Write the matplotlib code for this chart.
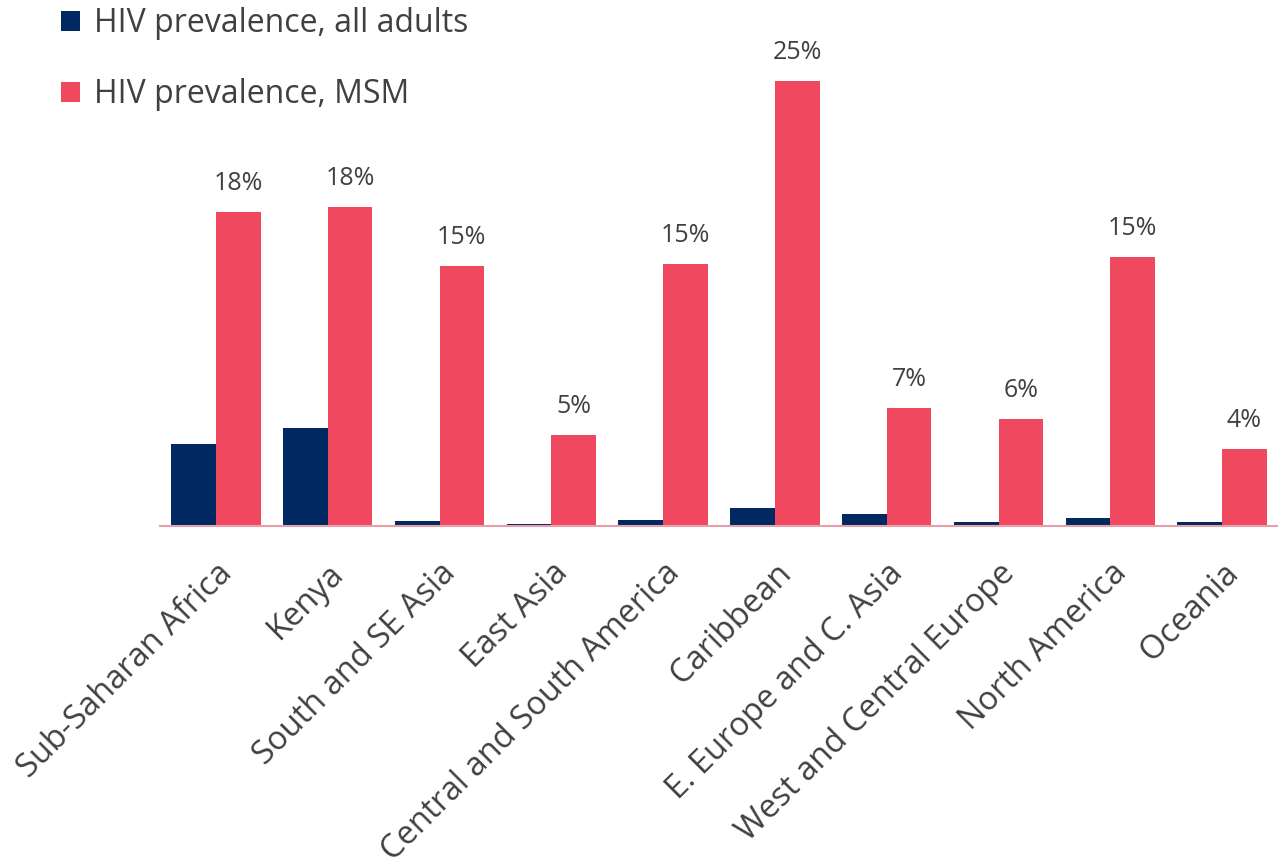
import matplotlib.pyplot as plt
import numpy as np

regiones = ["Sub-Saharan Africa", "Kenya", "South and SE Asia", "East Asia",
            "Central and South America", "Caribbean", "E. Europe and C. Asia",
            "West and Central Europe", "North America", "Oceania"]
adultos = [4.6, 5.5, 0.3, 0.1, 0.35, 1.0, 0.7, 0.2, 0.45, 0.2]
msm = [17.6, 17.9, 14.6, 5.1, 14.7, 25.0, 6.6, 6.0, 15.1, 4.3]

azul = "#002861"
rosa = "#F0485E"
gris = "#404040"

plt.rcParams['font.family'] = ['Open Sans', 'DejaVu Sans']

fig = plt.figure(figsize=(12.78, 8.66), dpi=100)
ax = fig.add_axes([160 / 1278, 1 - 526 / 866, 1118 / 1278, 481 / 866])

x = np.arange(len(regiones))
ancho = 0.4
ax.bar(x - ancho / 2, adultos, ancho, color=azul, label="HIV prevalence, all adults")
barras = ax.bar(x + ancho / 2, msm, ancho, color=rosa, label="HIV prevalence, MSM")

# Etiquetas de porcentaje sobre las barras MSM
for b, v in zip(barras, msm):
    ax.text(b.get_x() + b.get_width() / 2, v + 0.9, f"{v:.0f}%",
            ha='center', va='bottom', fontsize=18, color=gris)

ax.set_xlim(-0.5, len(regiones) - 0.5)
ax.set_ylim(0, 27)
ax.set_yticks([])
for lado in ['top', 'right', 'left']:
    ax.spines[lado].set_visible(False)
ax.spines['bottom'].set_color("#E8A0A8")
ax.spines['bottom'].set_linewidth(1.5)

ax.set_xticks(x)
ax.set_xticklabels(regiones, rotation=45, ha='right', rotation_mode='anchor',
                   fontsize=23.5, color=gris)
ax.tick_params(axis='x', length=0, pad=22)

fig.legend(loc='upper left', bbox_to_anchor=(32 / 1278, 1.025), frameon=False,
           fontsize=23, labelcolor=gris, handlelength=0.6, handleheight=0.6,
           handletextpad=0.45, labelspacing=1.2)

plt.savefig("out.png", dpi=100)
